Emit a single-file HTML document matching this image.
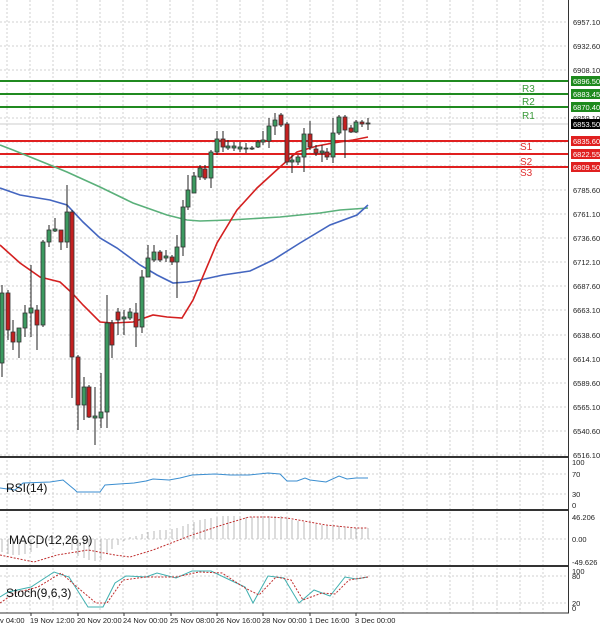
<!DOCTYPE html>
<html><head><meta charset="utf-8"><style>
html,body{margin:0;padding:0;background:#fff;}
svg{display:block;font-family:"Liberation Sans",sans-serif;}
</style></head><body>
<svg width="600" height="628" viewBox="0 0 600 628" xmlns="http://www.w3.org/2000/svg">
<rect width="600" height="628" fill="#fff"/>
<g stroke="#d0d0d0" stroke-width="1" stroke-dasharray="2,2">
<line x1="7" y1="0" x2="7" y2="613"/><line x1="30" y1="0" x2="30" y2="613"/><line x1="53" y1="0" x2="53" y2="613"/><line x1="77" y1="0" x2="77" y2="613"/><line x1="100" y1="0" x2="100" y2="613"/><line x1="123" y1="0" x2="123" y2="613"/><line x1="147" y1="0" x2="147" y2="613"/><line x1="170" y1="0" x2="170" y2="613"/><line x1="193" y1="0" x2="193" y2="613"/><line x1="217" y1="0" x2="217" y2="613"/><line x1="240" y1="0" x2="240" y2="613"/><line x1="263" y1="0" x2="263" y2="613"/><line x1="287" y1="0" x2="287" y2="613"/><line x1="310" y1="0" x2="310" y2="613"/><line x1="333" y1="0" x2="333" y2="613"/><line x1="357" y1="0" x2="357" y2="613"/><line x1="380" y1="0" x2="380" y2="613"/><line x1="403" y1="0" x2="403" y2="613"/><line x1="427" y1="0" x2="427" y2="613"/><line x1="450" y1="0" x2="450" y2="613"/><line x1="473" y1="0" x2="473" y2="613"/><line x1="497" y1="0" x2="497" y2="613"/><line x1="520" y1="0" x2="520" y2="613"/><line x1="543" y1="0" x2="543" y2="613"/>
<line x1="0" y1="22" x2="568" y2="22"/><line x1="0" y1="46" x2="568" y2="46"/><line x1="0" y1="70" x2="568" y2="70"/><line x1="0" y1="94" x2="568" y2="94"/><line x1="0" y1="118" x2="568" y2="118"/><line x1="0" y1="142" x2="568" y2="142"/><line x1="0" y1="166" x2="568" y2="166"/><line x1="0" y1="190" x2="568" y2="190"/><line x1="0" y1="214" x2="568" y2="214"/><line x1="0" y1="238" x2="568" y2="238"/><line x1="0" y1="262" x2="568" y2="262"/><line x1="0" y1="286" x2="568" y2="286"/><line x1="0" y1="310" x2="568" y2="310"/><line x1="0" y1="335" x2="568" y2="335"/><line x1="0" y1="359" x2="568" y2="359"/><line x1="0" y1="383" x2="568" y2="383"/><line x1="0" y1="407" x2="568" y2="407"/><line x1="0" y1="431" x2="568" y2="431"/><line x1="0" y1="455" x2="568" y2="455"/>
<line x1="0" y1="474" x2="568" y2="474"/><line x1="0" y1="494" x2="568" y2="494"/>
<line x1="0" y1="539" x2="568" y2="539"/>
<line x1="0" y1="576" x2="568" y2="576"/><line x1="0" y1="603" x2="568" y2="603"/>
</g>
<!-- level lines -->
<g stroke-width="2">
<line x1="0" y1="81" x2="568" y2="81" stroke="#208a20"/>
<line x1="0" y1="94" x2="568" y2="94" stroke="#208a20"/>
<line x1="0" y1="107" x2="568" y2="107" stroke="#208a20"/>
<line x1="0" y1="141" x2="568" y2="141" stroke="#e02020"/>
<line x1="0" y1="154" x2="568" y2="154" stroke="#e02020"/>
<line x1="0" y1="167" x2="568" y2="167" stroke="#e02020"/>
</g>
<line x1="0" y1="124" x2="568" y2="124" stroke="#ccc" stroke-width="1"/>
<g font-size="10">
<text x="522" y="92" fill="#3a9a3a">R3</text><text x="522" y="105" fill="#3a9a3a">R2</text><text x="522" y="119" fill="#3a9a3a">R1</text>
<text x="520" y="150" fill="#e03030">S1</text><text x="520" y="165" fill="#e03030">S2</text><text x="520" y="176" fill="#e03030">S3</text>
</g>
<!-- MAs -->
<polyline fill="none" stroke="#5ab07a" stroke-width="1.6" points="0,145 13,150 50,165 67,172 100,187 133,203 167,215 187,220 200,221 230,220 280,217 320,213 340,210 368,208"/>
<polyline fill="none" stroke="#4466c0" stroke-width="1.6" points="0,188 20,195 50,200 67,205 83,222 100,238 117,248 140,265 157,275 173,283 187,282 200,280 223,275 250,271 273,260 300,243 330,225 357,215 368,205"/>
<polyline fill="none" stroke="#d42020" stroke-width="1.6" points="0,245 20,263 40,277 60,282 72,293 83,305 100,322 113,323 133,322 153,315 167,317 182,318 193,300 217,243 237,210 257,188 280,167 297,152 317,146 333,143 353,140 368,137"/>
<!-- candles -->
<g stroke="#222" stroke-width="1">
<line x1="2" y1="285" x2="2" y2="377"/><line x1="8" y1="290" x2="8" y2="340"/><line x1="13" y1="320" x2="13" y2="350"/><line x1="19" y1="328" x2="19" y2="358"/><line x1="25" y1="305" x2="25" y2="337"/><line x1="31" y1="265" x2="31" y2="337"/><line x1="37" y1="305" x2="37" y2="350"/><line x1="43" y1="240" x2="43" y2="327"/><line x1="49" y1="225" x2="49" y2="247"/><line x1="55" y1="218" x2="55" y2="232"/><line x1="61" y1="230" x2="61" y2="250"/><line x1="67" y1="185" x2="67" y2="248"/><line x1="72" y1="210" x2="72" y2="398"/><line x1="78" y1="355" x2="78" y2="430"/><line x1="84" y1="377" x2="84" y2="420"/><line x1="89" y1="385" x2="89" y2="418"/><line x1="95" y1="387" x2="95" y2="445"/><line x1="101" y1="373" x2="101" y2="428"/><line x1="107" y1="295" x2="107" y2="428"/><line x1="112" y1="320" x2="112" y2="358"/><line x1="118" y1="308" x2="118" y2="335"/><line x1="124" y1="310" x2="124" y2="335"/><line x1="130" y1="308" x2="130" y2="320"/><line x1="136" y1="303" x2="136" y2="347"/><line x1="142" y1="270" x2="142" y2="333"/><line x1="148" y1="245" x2="148" y2="277"/><line x1="154" y1="245" x2="154" y2="262"/><line x1="160" y1="250" x2="160" y2="262"/><line x1="166" y1="250" x2="166" y2="262"/><line x1="172" y1="255" x2="172" y2="265"/><line x1="177" y1="235" x2="177" y2="298"/><line x1="183" y1="200" x2="183" y2="256"/><line x1="188" y1="175" x2="188" y2="210"/><line x1="194" y1="172" x2="194" y2="193"/><line x1="200" y1="165" x2="200" y2="180"/><line x1="205" y1="165" x2="205" y2="180"/><line x1="211" y1="150" x2="211" y2="188"/><line x1="217" y1="131" x2="217" y2="155"/><line x1="223" y1="131" x2="223" y2="152"/><line x1="228" y1="140" x2="228" y2="150"/><line x1="234" y1="142" x2="234" y2="151"/><line x1="240" y1="142" x2="240" y2="152"/><line x1="246" y1="143" x2="246" y2="153"/><line x1="252" y1="146" x2="252" y2="150"/><line x1="258" y1="140" x2="258" y2="148"/><line x1="263" y1="131" x2="263" y2="145"/><line x1="269" y1="118" x2="269" y2="148"/><line x1="275" y1="113" x2="275" y2="135"/><line x1="281" y1="113" x2="281" y2="127"/><line x1="287" y1="122" x2="287" y2="165"/><line x1="292" y1="155" x2="292" y2="173"/><line x1="298" y1="155" x2="298" y2="165"/><line x1="304" y1="128" x2="304" y2="172"/><line x1="310" y1="121" x2="310" y2="150"/><line x1="316" y1="145" x2="316" y2="156"/><line x1="322" y1="145" x2="322" y2="162"/><line x1="327" y1="148" x2="327" y2="160"/><line x1="333" y1="118" x2="333" y2="163"/><line x1="339" y1="115" x2="339" y2="135"/><line x1="345" y1="115" x2="345" y2="158"/><line x1="351" y1="125" x2="351" y2="133"/><line x1="356" y1="120" x2="356" y2="133"/><line x1="362" y1="120" x2="362" y2="127"/><line x1="368" y1="118" x2="368" y2="130"/>
</g>
<g stroke="#333" stroke-width="0.8">
<g fill="#3c9a60">
<rect x="0" y="293" width="4" height="70"/><rect x="17" y="328" width="4" height="14"/><rect x="23" y="313" width="4" height="15"/><rect x="29" y="308" width="4" height="5"/><rect x="41" y="242" width="4" height="83"/><rect x="47" y="230" width="4" height="12"/><rect x="53" y="229" width="4" height="2"/><rect x="65" y="212" width="4" height="30"/><rect x="82" y="387" width="4" height="18"/><rect x="93" y="416" width="4" height="2"/><rect x="99" y="412" width="4" height="6"/><rect x="105" y="323" width="4" height="89"/><rect x="122" y="317" width="4" height="2"/><rect x="128" y="312" width="4" height="6"/><rect x="140" y="277" width="4" height="50"/><rect x="146" y="258" width="4" height="19"/><rect x="152" y="252" width="4" height="8"/><rect x="164" y="256" width="4" height="2"/><rect x="175" y="247" width="4" height="15"/><rect x="181" y="207" width="4" height="40"/><rect x="186" y="190" width="4" height="17"/><rect x="192" y="176" width="4" height="17"/><rect x="198" y="168" width="4" height="9"/><rect x="209" y="152" width="4" height="26"/><rect x="215" y="139" width="4" height="13"/><rect x="226" y="146" width="4" height="2"/><rect x="232" y="146" width="4" height="2"/><rect x="238" y="147" width="4" height="2"/><rect x="244" y="148" width="4" height="1"/><rect x="250" y="148" width="4" height="1"/><rect x="256" y="142" width="4" height="5"/><rect x="261" y="140" width="4" height="2"/><rect x="267" y="126" width="4" height="15"/><rect x="273" y="120" width="4" height="6"/><rect x="290" y="160" width="4" height="2"/><rect x="296" y="157" width="4" height="5"/><rect x="302" y="134" width="4" height="23"/><rect x="320" y="151" width="4" height="2"/><rect x="331" y="133" width="4" height="24"/><rect x="337" y="117" width="4" height="16"/><rect x="354" y="122" width="4" height="10"/><rect x="366" y="123" width="4" height="1"/>
</g>
<g fill="#c42020">
<rect x="6" y="293" width="4" height="37"/><rect x="11" y="332" width="4" height="10"/><rect x="35" y="310" width="4" height="15"/><rect x="59" y="230" width="4" height="12"/><rect x="70" y="212" width="4" height="145"/><rect x="76" y="357" width="4" height="48"/><rect x="87" y="387" width="4" height="30"/><rect x="110" y="323" width="4" height="22"/><rect x="116" y="312" width="4" height="8"/><rect x="134" y="313" width="4" height="14"/><rect x="158" y="252" width="4" height="8"/><rect x="170" y="257" width="4" height="5"/><rect x="203" y="169" width="4" height="9"/><rect x="221" y="139" width="4" height="8"/><rect x="279" y="115" width="4" height="10"/><rect x="285" y="124" width="4" height="38"/><rect x="308" y="134" width="4" height="13"/><rect x="314" y="149" width="4" height="4"/><rect x="325" y="152" width="4" height="5"/><rect x="343" y="117" width="4" height="13"/><rect x="349" y="128" width="4" height="4"/><rect x="360" y="122" width="4" height="2"/>
</g>
</g>
<!-- RSI -->
<polyline fill="none" stroke="#3b8ed0" stroke-width="1" points="0,488 15,490 23,483 50,482 63,480 75,490 77,492 100,492 105,485 119,484 134,483 146,481 153,479 169,480 180,478 192,475 215,474 230,475 249,475 268,473 280,474 287,481 297,481 305,478 310,480 326,482 339,476 347,479 356,478 368,478"/>
<!-- MACD histogram -->
<g stroke="#b8b8b8" stroke-width="1">
<line x1="2" y1="539" x2="2" y2="552"/><line x1="8" y1="539" x2="8" y2="554"/><line x1="13" y1="539" x2="13" y2="555"/><line x1="19" y1="539" x2="19" y2="555"/><line x1="25" y1="539" x2="25" y2="554"/><line x1="31" y1="539" x2="31" y2="552"/><line x1="37" y1="539" x2="37" y2="548"/><line x1="43" y1="539" x2="43" y2="543"/><line x1="49" y1="539" x2="49" y2="541"/><line x1="55" y1="539" x2="55" y2="537"/><line x1="61" y1="539" x2="61" y2="536"/><line x1="67" y1="539" x2="67" y2="537"/><line x1="72" y1="539" x2="72" y2="550"/><line x1="78" y1="539" x2="78" y2="556"/><line x1="84" y1="539" x2="84" y2="558"/><line x1="89" y1="539" x2="89" y2="560"/><line x1="95" y1="539" x2="95" y2="561"/><line x1="101" y1="539" x2="101" y2="560"/><line x1="107" y1="539" x2="107" y2="553"/><line x1="112" y1="539" x2="112" y2="549"/><line x1="118" y1="539" x2="118" y2="545"/><line x1="124" y1="539" x2="124" y2="541"/><line x1="130" y1="539" x2="130" y2="537"/><line x1="136" y1="539" x2="136" y2="536"/><line x1="142" y1="539" x2="142" y2="534"/><line x1="148" y1="539" x2="148" y2="532"/><line x1="154" y1="539" x2="154" y2="531"/><line x1="160" y1="539" x2="160" y2="530"/><line x1="166" y1="539" x2="166" y2="530"/><line x1="172" y1="539" x2="172" y2="529"/><line x1="177" y1="539" x2="177" y2="528"/><line x1="183" y1="539" x2="183" y2="526"/><line x1="188" y1="539" x2="188" y2="524"/><line x1="194" y1="539" x2="194" y2="522"/><line x1="200" y1="539" x2="200" y2="520"/><line x1="205" y1="539" x2="205" y2="519"/><line x1="211" y1="539" x2="211" y2="518"/><line x1="217" y1="539" x2="217" y2="517"/><line x1="223" y1="539" x2="223" y2="516"/><line x1="228" y1="539" x2="228" y2="516"/><line x1="234" y1="539" x2="234" y2="516"/><line x1="240" y1="539" x2="240" y2="516"/><line x1="246" y1="539" x2="246" y2="517"/><line x1="252" y1="539" x2="252" y2="517"/><line x1="258" y1="539" x2="258" y2="517"/><line x1="263" y1="539" x2="263" y2="516"/><line x1="269" y1="539" x2="269" y2="516"/><line x1="275" y1="539" x2="275" y2="516"/><line x1="281" y1="539" x2="281" y2="516"/><line x1="287" y1="539" x2="287" y2="518"/><line x1="292" y1="539" x2="292" y2="520"/><line x1="298" y1="539" x2="298" y2="521"/><line x1="304" y1="539" x2="304" y2="522"/><line x1="310" y1="539" x2="310" y2="522"/><line x1="316" y1="539" x2="316" y2="524"/><line x1="322" y1="539" x2="322" y2="525"/><line x1="327" y1="539" x2="327" y2="526"/><line x1="333" y1="539" x2="333" y2="526"/><line x1="339" y1="539" x2="339" y2="526"/><line x1="345" y1="539" x2="345" y2="527"/><line x1="351" y1="539" x2="351" y2="528"/><line x1="356" y1="539" x2="356" y2="528"/><line x1="362" y1="539" x2="362" y2="528"/><line x1="368" y1="539" x2="368" y2="528"/>
</g>
<polyline fill="none" stroke="#c03030" stroke-width="1" stroke-dasharray="2,1.5" points="0,555 34,562 57,555 88,550 115,555 130,557 153,550 192,535 222,525 249,517 268,517 287,518 326,525 356,528 368,528"/>
<!-- Stoch -->
<polyline fill="none" stroke="#40b0b0" stroke-width="1" points="0,597 8,592 31,587 54,572 69,577 88,607 103,607 115,583 126,576 146,577 157,573 176,578 192,571 211,571 230,580 245,587 253,603 268,576 284,578 299,603 314,590 330,596 345,577 356,579 368,577"/>
<polyline fill="none" stroke="#c03030" stroke-width="1" stroke-dasharray="2,1.5" points="0,603 15,593 38,587 61,573 77,587 96,603 107,603 123,580 146,577 176,577 199,572 222,573 245,588 259,595 276,577 291,580 303,600 322,593 335,594 349,580 368,577"/>
<!-- labels -->
<g font-size="12" fill="#111">
<text x="6" y="492">RSI(14)</text>
<text x="9" y="544">MACD(12,26,9)</text>
<text x="6" y="597">Stoch(9,6,3)</text>
</g>
<!-- frames -->
<g stroke="#333" fill="none">
<line x1="568.5" y1="0" x2="568.5" y2="613"/>
<line x1="0" y1="457" x2="569" y2="457" stroke-width="2"/>
<line x1="0" y1="510" x2="569" y2="510" stroke-width="2"/>
<line x1="0" y1="566" x2="569" y2="566" stroke-width="2"/>
<line x1="0" y1="613" x2="569" y2="613"/>
</g>
<!-- price axis -->
<g font-size="7.5" fill="#222">
<text x="573" y="25">6957.10</text><text x="573" y="49">6932.60</text><text x="573" y="73">6908.10</text><text x="573" y="121">6859.10</text><text x="573" y="193">6785.60</text><text x="573" y="217">6761.10</text><text x="573" y="241">6736.60</text><text x="573" y="265">6712.10</text><text x="573" y="289">6687.60</text><text x="573" y="313">6663.10</text><text x="573" y="338">6638.60</text><text x="573" y="362">6614.10</text><text x="573" y="386">6589.60</text><text x="573" y="410">6565.10</text><text x="573" y="434">6540.60</text><text x="573" y="458">6516.10</text>
<text x="572" y="465">100</text><text x="572" y="477">70</text><text x="572" y="497">30</text><text x="572" y="508">0</text>
<text x="572" y="520">46.206</text><text x="572" y="542">0.00</text><text x="572" y="565">-49.626</text>
<text x="572" y="574">100</text><text x="572" y="579">80</text><text x="572" y="606">20</text><text x="572" y="611">0</text>
</g>
<g font-size="7.5" fill="#fff">
<rect x="571" y="76" width="29" height="10" fill="#1e8a1e"/><text x="573" y="84">6896.50</text>
<rect x="571" y="89" width="29" height="10" fill="#1e8a1e"/><text x="573" y="97">6883.45</text>
<rect x="571" y="102" width="29" height="10" fill="#1e8a1e"/><text x="573" y="110">6870.40</text>
<rect x="571" y="119" width="29" height="10" fill="#000"/><text x="573" y="127">6853.50</text>
<rect x="571" y="136" width="29" height="10" fill="#e02020"/><text x="573" y="144">6835.60</text>
<rect x="571" y="149" width="29" height="10" fill="#e02020"/><text x="573" y="157">6822.55</text>
<rect x="571" y="162" width="29" height="10" fill="#e02020"/><text x="573" y="170">6809.50</text>
</g>
<!-- time axis -->
<g stroke="#333"><line x1="31" y1="613" x2="31" y2="616"/><line x1="78" y1="613" x2="78" y2="616"/><line x1="124" y1="613" x2="124" y2="616"/><line x1="171" y1="613" x2="171" y2="616"/><line x1="217" y1="613" x2="217" y2="616"/><line x1="263" y1="613" x2="263" y2="616"/><line x1="310" y1="613" x2="310" y2="616"/><line x1="356" y1="613" x2="356" y2="616"/></g>
<g font-size="7.5" fill="#222">
<text x="0" y="623">v 04:00</text><text x="30" y="623">19 Nov 12:00</text><text x="77" y="623">20 Nov 20:00</text><text x="123" y="623">24 Nov 00:00</text><text x="170" y="623">25 Nov 08:00</text><text x="216" y="623">26 Nov 16:00</text><text x="262" y="623">28 Nov 00:00</text><text x="309" y="623">1 Dec 16:00</text><text x="355" y="623">3 Dec 00:00</text>
</g>
</svg>
</body></html>
